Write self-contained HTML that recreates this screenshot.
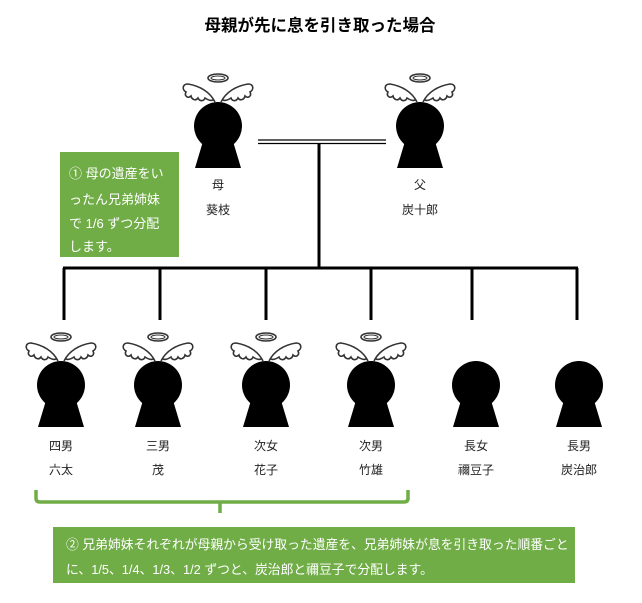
<!DOCTYPE html>
<html><head><meta charset="utf-8"><style>
body{margin:0;background:#fff;}
svg text{font-family:"Liberation Sans","Noto Sans CJK JP",sans-serif;}
</style></head><body>
<svg width="642" height="598" viewBox="0 0 642 598" xmlns="http://www.w3.org/2000/svg">
<defs>
<g id="p">
<circle cx="0" cy="0" r="24" fill="#000"/>
<polygon points="-14,12 14,12 23,42 -23,42" fill="#000"/>
</g>
<g id="a" fill="none" stroke="#333" stroke-width="1.6">
<ellipse cx="0" cy="-48" rx="10" ry="4"/>
<ellipse cx="0" cy="-48" rx="7" ry="2" stroke-width="1"/>
<path d="M-3,-24 C-8,-34 -18,-40 -30,-42 C-36,-42 -36,-36 -32,-34 C-34,-30 -30,-27 -27,-30 C-26,-26 -22,-25 -20,-28 C-18,-24 -14,-25 -13,-28 C-10,-26 -7,-25 -5,-26"/>
<path d="M3,-24 C8,-34 18,-40 30,-42 C36,-42 36,-36 32,-34 C34,-30 30,-27 27,-30 C26,-26 22,-25 20,-28 C18,-24 14,-25 13,-28 C10,-26 7,-25 5,-26"/>
</g>
</defs>
<text x="320" y="31" font-size="16.5" font-weight="bold" text-anchor="middle">母親が先に息を引き取った場合</text>
<use href="#p" x="218" y="126"/><use href="#a" x="218" y="126"/>
<use href="#p" x="420" y="126"/><use href="#a" x="420" y="126"/>
<g font-size="12" text-anchor="middle" fill="#222">
<text x="218" y="189">母</text><text x="218" y="214">葵枝</text>
<text x="420" y="189">父</text><text x="420" y="214">炭十郎</text>
</g>
<line x1="258" y1="140" x2="386" y2="140" stroke="#000" stroke-width="1.3"/>
<line x1="258" y1="143.5" x2="386" y2="143.5" stroke="#000" stroke-width="1.3"/>
<line x1="319" y1="143" x2="319" y2="268" stroke="#000" stroke-width="3"/>
<line x1="63" y1="268" x2="578" y2="268" stroke="#000" stroke-width="3"/>
<g stroke="#000" stroke-width="3">
<line x1="64" y1="268" x2="64" y2="320"/><line x1="160" y1="268" x2="160" y2="320"/>
<line x1="266" y1="268" x2="266" y2="320"/><line x1="371" y1="268" x2="371" y2="320"/>
<line x1="472" y1="268" x2="472" y2="320"/><line x1="577" y1="268" x2="577" y2="320"/>
</g>
<use href="#p" x="61" y="385"/><use href="#a" x="61" y="385"/>
<use href="#p" x="158" y="385"/><use href="#a" x="158" y="385"/>
<use href="#p" x="266" y="385"/><use href="#a" x="266" y="385"/>
<use href="#p" x="371" y="385"/><use href="#a" x="371" y="385"/>
<use href="#p" x="476" y="385"/>
<use href="#p" x="579" y="385"/>
<g font-size="12" text-anchor="middle" fill="#222">
<text x="61" y="450">四男</text><text x="61" y="474">六太</text>
<text x="158" y="450">三男</text><text x="158" y="474">茂</text>
<text x="266" y="450">次女</text><text x="266" y="474">花子</text>
<text x="371" y="450">次男</text><text x="371" y="474">竹雄</text>
<text x="476" y="450">長女</text><text x="476" y="474">禰豆子</text>
<text x="579" y="450">長男</text><text x="579" y="474">炭治郎</text>
</g>
<rect x="60" y="152" width="119" height="105" fill="#70ad47"/>
<g font-size="13" fill="#fff">
<text x="69" y="178">①  母の遺産をい</text>
<text x="69" y="204">ったん兄弟姉妹</text>
<text x="69" y="228">で  1/6  ずつ分配</text>
<text x="69" y="251">します。</text>
</g>
<path d="M36,490 L36,498 Q36,502 40,502 L404,502 Q408,502 408,498 L408,490" fill="none" stroke="#70ad47" stroke-width="3.5"/>
<line x1="220" y1="502" x2="220" y2="513" stroke="#70ad47" stroke-width="3.5"/>
<rect x="53" y="527" width="522" height="56" fill="#70ad47"/>
<g font-size="12.8" fill="#fff">
<text x="66" y="549">② 兄弟姉妹それぞれが母親から受け取った遺産を、兄弟姉妹が息を引き取った順番ごと</text>
<text x="66" y="574">に、1/5、1/4、1/3、1/2 ずつと、炭治郎と禰豆子で分配します。</text>
</g>
</svg>
</body></html>
